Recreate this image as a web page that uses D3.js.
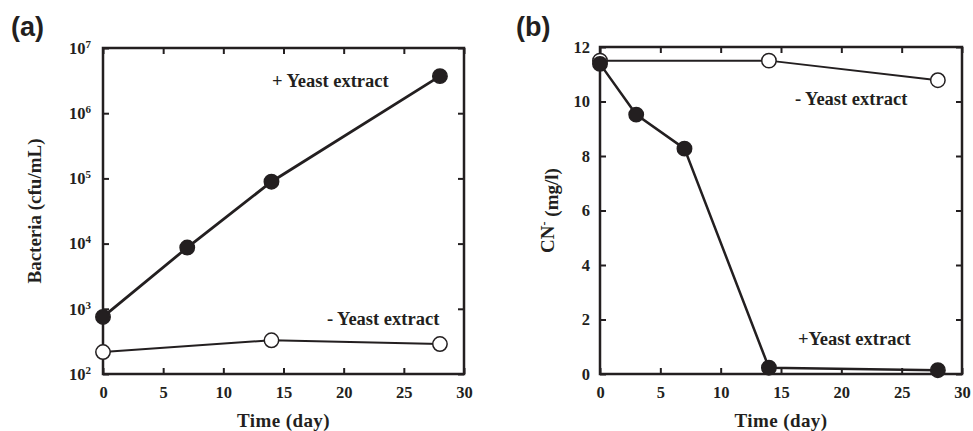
<!DOCTYPE html>
<html>
<head>
<meta charset="utf-8">
<script src="https://cdn.jsdelivr.net/npm/d3@7"></script>
<style>
  body { margin: 0; background: #fff; }
  svg text { font-family: "Liberation Serif", "Times New Roman", serif; font-weight: bold; fill: #231f20; }
  .panel-label { font-family: "Liberation Sans", Arial, sans-serif; font-size: 27px; }
</style>
</head>
<body>
<svg id="chart" width="973" height="431"></svg>
<script>
// days sampled
var daysA = [0, 7, 14, 28];
var daysAminus = [0, 14, 28];
var daysB = [0, 3, 7, 14, 28];
var daysBminus = [0, 14, 28];

// (a) bacteria, cfu/mL
var bactPlus = [750, 8700, 89000, 3.7e6];
var bactMinus = [217, 329, 288];

// (b) cyanide, mg/l
var cnPlus = [11.38, 9.52, 8.27, 0.23, 0.14];
var cnMinus = [11.5, 11.5, 10.78];

var xTicks = [0, 5, 10, 15, 20, 25, 30];
var logTicks = [100, 1000, 1e4, 1e5, 1e6, 1e7];
var cnTicks = [0, 2, 4, 6, 8, 10, 12];

var ink = "#231f20";
var svg = d3.select("#chart");

function panel(left, right, top, bottom) {
  var g = svg.append("g");
  var x = d3.scaleLinear().domain([0, 30]).range([left, right]);
  // bottom + top ticks (inward)
  g.append("g").attr("transform", "translate(0," + bottom + ")")
    .call(d3.axisBottom(x).tickValues(xTicks).tickSize(-6).tickPadding(12).tickFormat(d3.format("d")))
    .call(styleAxis);
  g.append("g").attr("transform", "translate(0," + top + ")")
    .call(d3.axisTop(x).tickValues(xTicks).tickSize(-6).tickFormat(""))
    .call(styleAxis);
  return { g: g, x: x };
}

function styleAxis(sel) {
  sel.select(".domain").remove();
  sel.selectAll(".tick line").attr("stroke", ink).attr("stroke-width", 2);
  sel.selectAll(".tick text").style("font-size", "16.5px").attr("fill", ink)
    .style("font-family", "'Liberation Serif', serif").style("font-weight", "bold");
}

function frame(g, left, right, top, bottom) {
  g.append("rect").attr("x", left).attr("y", top)
    .attr("width", right - left).attr("height", bottom - top)
    .attr("fill", "none").attr("stroke", ink).attr("stroke-width", 2.5);
}

function series(g, x, y, xs, ys, filled, lw) {
  var pts = xs.map(function (d, i) { return [d, ys[i]]; });
  g.append("path").datum(pts)
    .attr("fill", "none").attr("stroke", ink).attr("stroke-width", lw)
    .attr("d", d3.line().x(function (d) { return x(d[0]); }).y(function (d) { return y(d[1]); }));
  g.selectAll(null).data(pts).enter().append("circle")
    .attr("cx", function (d) { return x(d[0]); })
    .attr("cy", function (d) { return y(d[1]); })
    .attr("r", 7.2)
    .attr("fill", filled ? ink : "#fff")
    .attr("stroke", ink).attr("stroke-width", 1.5);
}

// ---------- panel (a) ----------
var aL = 103, aR = 464, aT = 48, aB = 374;
var pa = panel(aL, aR, aT, aB);
var ya = d3.scaleLog().domain([100, 1e7]).range([aB, aT]);
var yAxA = pa.g.append("g").attr("transform", "translate(" + aL + ",0)")
  .call(d3.axisLeft(ya).tickValues(logTicks).tickSize(-6).tickFormat(""))
  .call(styleAxis);
yAxA.selectAll(".tick").append("text")
  .attr("x", -12).attr("dy", "0.32em").attr("text-anchor", "end")
  .style("font-size", "16.5px")
  .each(function (d) {
    var t = d3.select(this);
    t.append("tspan").text("10");
    t.append("tspan").attr("dy", "-0.55em").style("font-size", "11px").text(Math.round(Math.log10(d)));
  });
pa.g.append("g").attr("transform", "translate(" + aR + ",0)")
  .call(d3.axisRight(ya).tickValues(logTicks).tickSize(-6).tickFormat(""))
  .call(styleAxis);
frame(pa.g, aL, aR, aT, aB);
series(pa.g, pa.x, ya, daysAminus, bactMinus, false, 2);
series(pa.g, pa.x, ya, daysA, bactPlus, true, 2.8);

pa.g.append("text").attr("x", 272).attr("y", 87).style("font-size", "18.5px").text("+ Yeast extract");
pa.g.append("text").attr("x", 327).attr("y", 325).style("font-size", "18.5px").text("- Yeast extract");
pa.g.append("text").attr("x", (aL + aR) / 2).attr("y", 427).attr("text-anchor", "middle")
  .style("font-size", "19px").style("letter-spacing", "0.4px").text("Time (day)");
pa.g.append("text").attr("transform", "translate(41," + (aT + aB) / 2 + ") rotate(-90)")
  .attr("text-anchor", "middle").style("font-size", "19px").text("Bacteria (cfu/mL)");
svg.append("text").attr("class", "panel-label").attr("x", 11).attr("y", 36).text("(a)");

// ---------- panel (b) ----------
var bL = 600, bR = 962, bT = 47, bB = 374;
var pb = panel(bL, bR, bT, bB);
var yb = d3.scaleLinear().domain([0, 12]).range([bB, bT]);
pb.g.append("g").attr("transform", "translate(" + bL + ",0)")
  .call(d3.axisLeft(yb).tickValues(cnTicks).tickSize(-6).tickPadding(10).tickFormat(d3.format("d")))
  .call(styleAxis);
pb.g.append("g").attr("transform", "translate(" + bR + ",0)")
  .call(d3.axisRight(yb).tickValues(cnTicks).tickSize(-6).tickFormat(""))
  .call(styleAxis);
frame(pb.g, bL, bR, bT, bB);
series(pb.g, pb.x, yb, daysBminus, cnMinus, false, 2);
series(pb.g, pb.x, yb, daysB, cnPlus, true, 2.5);

pb.g.append("text").attr("x", 795).attr("y", 105).style("font-size", "18.5px").text("- Yeast extract");
pb.g.append("text").attr("x", 798).attr("y", 345).style("font-size", "18.5px").text("+Yeast extract");
pb.g.append("text").attr("x", (bL + bR) / 2).attr("y", 427).attr("text-anchor", "middle")
  .style("font-size", "19px").style("letter-spacing", "0.4px").text("Time (day)");
var cnT = pb.g.append("text").attr("transform", "translate(554," + (bT + bB) / 2 + ") rotate(-90)")
  .attr("text-anchor", "middle").style("font-size", "19px");
cnT.append("tspan").text("CN");
cnT.append("tspan").attr("dy", "-0.5em").style("font-size", "12px").text("-");
cnT.append("tspan").attr("dy", "0.5em").text(" (mg/l)");
svg.append("text").attr("class", "panel-label").attr("x", 516).attr("y", 36).text("(b)");
</script>
</body>
</html>
